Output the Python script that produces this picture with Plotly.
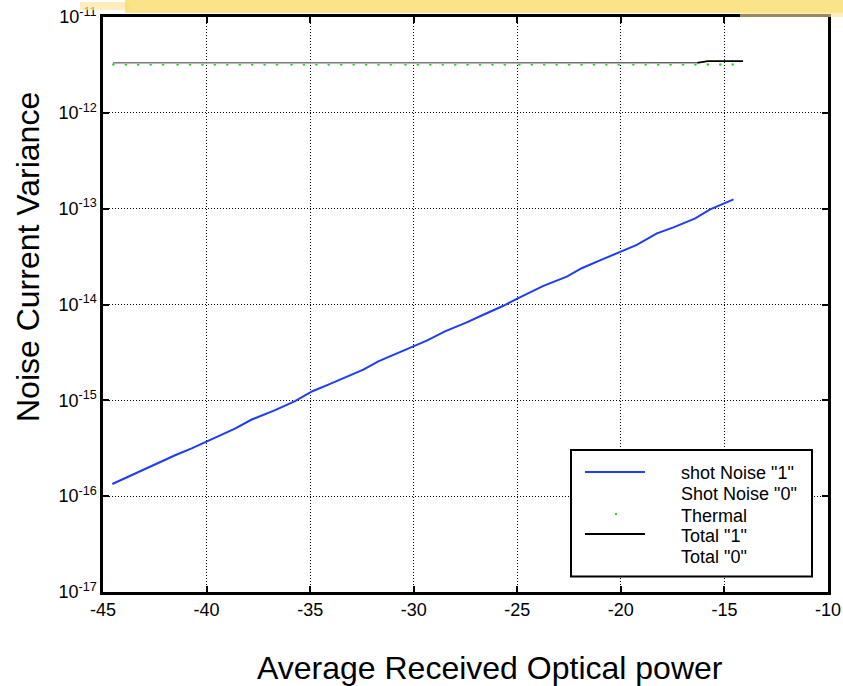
import plotly.graph_objects as go

# ---- data ----
shot1_x = [-44.55, -43.30, -42.33, -41.52, -40.72, -39.90, -38.63, -37.82, -36.69,
           -35.73, -34.89, -34.12, -32.43, -31.71, -29.94, -29.37, -28.49, -27.44,
           -26.64, -25.67, -24.95, -23.74, -22.61, -21.89, -20.84, -19.91, -19.23,
           -18.26, -17.46, -16.41, -15.69, -14.56]
shot1_y = [1.34e-16, 1.79e-16, 2.20e-16, 2.67e-16, 3.15e-16, 3.82e-16, 5.06e-16,
           6.31e-16, 7.89e-16, 9.79e-16, 1.245e-15, 1.46e-15, 2.09e-15, 2.55e-15,
           3.66e-15, 4.19e-15, 5.24e-15, 6.50e-15, 7.82e-15, 9.70e-15, 1.167e-14,
           1.567e-14, 1.95e-14, 2.39e-14, 2.99e-14, 3.62e-14, 4.18e-14, 5.53e-14,
           6.38e-14, 7.93e-14, 9.84e-14, 1.25e-13]

thermal_x = [-44.5, -43.9, -43.3, -42.7, -42.1, -41.4, -40.8, -40.2, -39.6, -39.0,
             -38.4, -37.8, -37.2, -36.6, -35.9, -35.3, -34.7, -34.1, -33.5, -32.9,
             -32.3, -31.7, -31.1, -30.4, -29.8, -29.2, -28.6, -28.0, -27.4, -26.8,
             -26.2, -25.6, -24.9, -24.3, -23.7, -23.1, -22.5, -21.9, -21.3, -20.7,
             -20.1, -19.4, -18.8, -18.2, -17.6, -17.0, -16.4, -15.8, -15.2, -14.6]
thermal_y = [3.2e-12] * len(thermal_x)

total1_x = [-44.5, -35.0, -25.0, -16.4, -15.8, -14.1]
total1_y = [3.30e-12, 3.30e-12, 3.30e-12, 3.31e-12, 3.46e-12, 3.47e-12]

total0_x = [-44.5, -35.0, -25.0, -16.3]
total0_y = [3.30e-12, 3.30e-12, 3.30e-12, 3.30e-12]

legend_labels = ['shot Noise "1"', 'Shot Noise "0"', 'Thermal', 'Total "1"', 'Total "0"']

x_ticks = [-45, -40, -35, -30, -25, -20, -15, -10]
x_tick_text = ["-45", "-40", "-35", "-30", "-25", "-20", "-15", "-10"]
y_ticks = [1e-17, 1e-16, 1e-15, 1e-14, 1e-13, 1e-12, 1e-11]
y_tick_text = ["10<sup>-17</sup>", "10<sup>-16</sup>", "10<sup>-15</sup>",
               "10<sup>-14</sup>", "10<sup>-13</sup>", "10<sup>-12</sup>",
               "10<sup>-11</sup>"]

FONT = "Liberation Sans, Arial, sans-serif"
BLUE = "#1f3cf5"
GREEN = "#22dd22"

W, H = 843, 686
L, R, T, B = 103, 15, 17, 94
PW, PH = W - L - R, H - T - B


def xp(px):
    return (px - L) / PW


def yp(py):
    return (H - B - py) / PH


fig = go.Figure()

fig.add_trace(go.Scatter(x=shot1_x, y=shot1_y, mode="lines", name=legend_labels[0],
                         line=dict(color=BLUE, width=2)))
fig.add_trace(go.Scatter(x=thermal_x, y=thermal_y, mode="markers", name=legend_labels[2],
                         marker=dict(color=GREEN, size=2.5)))
fig.add_trace(go.Scatter(x=total1_x, y=total1_y, mode="lines", name=legend_labels[3],
                         line=dict(color="black", width=1.8)))
fig.add_trace(go.Scatter(x=total0_x, y=total0_y, mode="lines", name=legend_labels[4],
                         line=dict(color="#b8b8b8", width=1.5)))

axis_common = dict(showline=True, linecolor="black", linewidth=2.5, mirror="ticks",
                   ticks="inside", ticklen=6, tickwidth=1.5, tickcolor="black",
                   showgrid=True, gridcolor="black", gridwidth=1, griddash="1px,2px",
                   zeroline=False, automargin=False,
                   tickfont=dict(family=FONT, size=18, color="black"))

fig.update_xaxes(range=[-45, -10], tickvals=x_ticks, ticktext=x_tick_text, **axis_common)
fig.update_yaxes(type="log", range=[-17, -11], tickvals=y_ticks, ticktext=y_tick_text,
                 **axis_common)

legend_text_y = [473, 493.5, 516, 535.5, 556.5]
shapes = [
    # yellow brush-stroke band across the top of the slide
    dict(type="rect", xref="paper", yref="paper", x0=xp(80), x1=xp(130),
         y0=yp(10), y1=yp(2), fillcolor="#fbe7a0", line=dict(width=0),
         opacity=0.7, layer="above"),
    dict(type="rect", xref="paper", yref="paper", x0=xp(125), x1=xp(860),
         y0=yp(13), y1=yp(-30), fillcolor="#f9dc6c", line=dict(width=0),
         opacity=0.8, layer="above"),
    dict(type="rect", xref="paper", yref="paper", x0=xp(740), x1=xp(860),
         y0=yp(17), y1=yp(12), fillcolor="#fbe69a", line=dict(width=0),
         opacity=0.6, layer="above"),
    # legend box
    dict(type="rect", xref="paper", yref="paper", x0=xp(571), x1=xp(812),
         y0=yp(576.5), y1=yp(450), fillcolor="white", line=dict(color="black", width=2),
         layer="above"),
    dict(type="line", xref="paper", yref="paper", x0=xp(585), x1=xp(645),
         y0=yp(472), y1=yp(472), line=dict(color=BLUE, width=2), layer="above"),
    dict(type="circle", xref="paper", yref="paper", x0=xp(614.8), x1=xp(617.2),
         y0=yp(515.2), y1=yp(512.8), fillcolor=GREEN, line=dict(width=0), layer="above"),
    dict(type="line", xref="paper", yref="paper", x0=xp(585), x1=xp(645),
         y0=yp(534), y1=yp(534), line=dict(color="black", width=2), layer="above"),
]

annotations = [
    dict(text="Average Received Optical power", xref="paper", yref="paper",
         x=xp(490), y=yp(668), xanchor="center", yanchor="middle", showarrow=False,
         font=dict(family=FONT, size=32, color="black")),
    dict(text="Noise Current Variance", xref="paper", yref="paper",
         x=xp(28), y=yp(257), xanchor="center", yanchor="middle", showarrow=False,
         textangle=-90, font=dict(family=FONT, size=32, color="black")),
]
for label, ty in zip(legend_labels, legend_text_y):
    annotations.append(dict(text=label, xref="paper", yref="paper", x=xp(679), y=yp(ty),
                            xanchor="left", yanchor="middle", showarrow=False,
                            font=dict(family=FONT, size=18, color="black")))

fig.update_layout(
    width=W, height=H,
    margin=dict(l=L, r=R, t=T, b=B, autoexpand=False),
    paper_bgcolor="white", plot_bgcolor="white",
    font=dict(family=FONT, color="black"),
    showlegend=False,
    shapes=shapes,
    annotations=annotations,
)

fig.write_html("out.html")
